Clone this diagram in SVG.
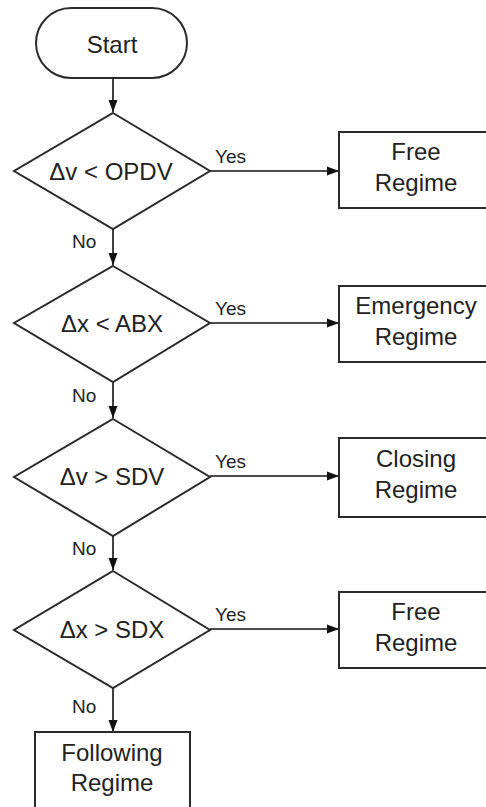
<svg xmlns="http://www.w3.org/2000/svg" width="486" height="807" viewBox="0 0 486 807">
<defs>
<marker id="arr" viewBox="0 0 12 10" refX="12" refY="5" markerWidth="12" markerHeight="10" markerUnits="userSpaceOnUse" orient="auto">
<path d="M0,0.5 L12,5 L0,9.5 Z" fill="#111"/>
</marker>
<style>
.shape{fill:#fff;stroke:#2a2a2a;stroke-width:2}
.t{font-family:"Liberation Sans",Arial,sans-serif;font-size:24px;fill:#222;text-anchor:middle}
.lbl{font-family:"Liberation Sans",Arial,sans-serif;font-size:19px;fill:#222}
.c{fill:none;stroke:#111;stroke-width:1.6}
</style>
</defs>
<rect width="486" height="807" fill="#fff"/>
<g id="connectors">
<line class="c" x1="113" y1="78" x2="113" y2="112" marker-end="url(#arr)"/>
<line class="c" x1="113" y1="229" x2="113" y2="265" marker-end="url(#arr)"/>
<line class="c" x1="113" y1="382" x2="113" y2="418" marker-end="url(#arr)"/>
<line class="c" x1="113" y1="536" x2="113" y2="570" marker-end="url(#arr)"/>
<line class="c" x1="113" y1="688" x2="113" y2="732" marker-end="url(#arr)"/>
<line class="c" x1="210" y1="171" x2="339" y2="171" marker-end="url(#arr)"/>
<line class="c" x1="210" y1="323" x2="339" y2="323" marker-end="url(#arr)"/>
<line class="c" x1="210" y1="476" x2="339" y2="476" marker-end="url(#arr)"/>
<line class="c" x1="210" y1="629" x2="339" y2="629" marker-end="url(#arr)"/>
<text class="lbl" x="215" y="163">Yes</text>
<text class="lbl" x="215" y="315">Yes</text>
<text class="lbl" x="215" y="468">Yes</text>
<text class="lbl" x="215" y="621">Yes</text>
<text class="lbl" x="72" y="248">No</text>
<text class="lbl" x="72" y="402">No</text>
<text class="lbl" x="72" y="555">No</text>
<text class="lbl" x="72" y="713">No</text>
</g>
<g id="start">
<rect class="shape" x="36" y="8" width="151" height="70" rx="35" ry="35"/>
<text class="t" x="112" y="53">Start</text>
</g>
<g id="d1">
<polygon class="shape" points="113,113 210,171 113,229 14,171"/>
<text class="t" x="111" y="180">Δv &lt; OPDV</text>
</g>
<g id="d2">
<polygon class="shape" points="113,266 210,323 113,382 14,323"/>
<text class="t" x="112" y="332">Δx &lt; ABX</text>
</g>
<g id="d3">
<polygon class="shape" points="113,419 210,477 113,536 14,477"/>
<text class="t" x="112" y="485">Δv &gt; SDV</text>
</g>
<g id="d4">
<polygon class="shape" points="113,571 210,630 113,688 14,630"/>
<text class="t" x="112" y="638">Δx &gt; SDX</text>
</g>
<g id="free1">
<rect class="shape" x="339" y="132" width="156" height="76"/>
<text class="t" x="416" y="160">Free</text>
<text class="t" x="416" y="191">Regime</text>
</g>
<g id="emergency">
<rect class="shape" x="339" y="286" width="156" height="76"/>
<text class="t" x="416" y="314">Emergency</text>
<text class="t" x="416" y="345">Regime</text>
</g>
<g id="closing">
<rect class="shape" x="339" y="438" width="156" height="79"/>
<text class="t" x="416" y="467">Closing</text>
<text class="t" x="416" y="498">Regime</text>
</g>
<g id="free2">
<rect class="shape" x="339" y="592" width="156" height="76"/>
<text class="t" x="416" y="620">Free</text>
<text class="t" x="416" y="651">Regime</text>
</g>
<g id="following">
<rect class="shape" x="35" y="732" width="155" height="80"/>
<text class="t" x="112" y="761">Following</text>
<text class="t" x="112" y="791">Regime</text>
</g>
</svg>
